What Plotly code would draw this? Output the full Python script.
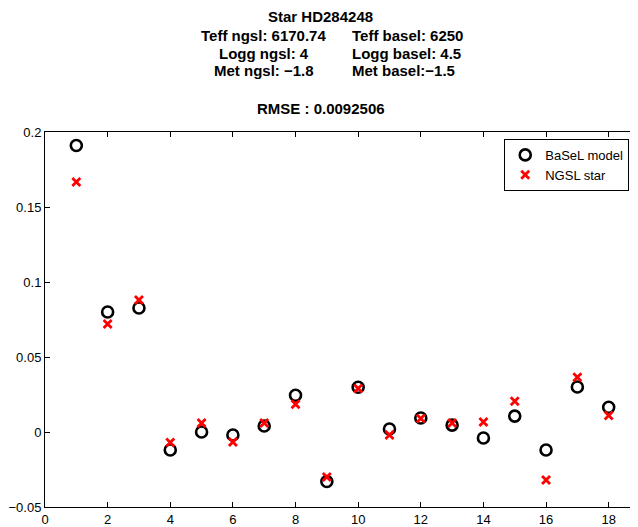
import plotly.graph_objects as go

x_idx = list(range(1, 19))
basel_model = [0.191, 0.080, 0.0827, -0.012, 0.0, -0.002, 0.004, 0.0245, -0.033,
               0.0298, 0.002, 0.0093, 0.0046, -0.004, 0.0106, -0.012, 0.030, 0.0165]
ngsl_star = [0.1667, 0.072, 0.088, -0.007, 0.006, -0.0066, 0.006, 0.0185, -0.030,
             0.029, -0.002, 0.009, 0.006, 0.0066, 0.0205, -0.032, 0.0365, 0.011]

x_ticks = [0, 2, 4, 6, 8, 10, 12, 14, 16, 18]
y_ticks = [-0.05, 0, 0.05, 0.1, 0.15, 0.2]
y_ticktext = ["\u22120.05", "0", "0.05", "0.1", "0.15", "0.2"]

# page coordinates (browser adds an 8px body margin)
OFF = 8
PL, PR, PT, PB = 45, 641, 132, 510   # plot area in page pixels
FW, FH = 633, 519                    # figure size
L = PL - OFF
T = PT - OFF
B = FH - (PB - OFF)
R = FW - (PR - OFF)

def px(x):
    return (x - PL) / (PR - PL)

def py(y):
    return (PB - y) / (PB - PT)

fig = go.Figure()
fig.add_trace(go.Scatter(
    x=x_idx, y=basel_model, mode="markers", name="BaSeL model",
    marker=dict(symbol="circle-open", size=11, color="black",
                line=dict(width=2.6, color="black"))))
fig.add_trace(go.Scatter(
    x=x_idx, y=ngsl_star, mode="markers", name="NGSL star",
    marker=dict(symbol="x-thin", size=8, color="red",
                line=dict(width=2.8, color="red"))))

tfont = dict(family="Liberation Sans, Arial", size=15, color="black")
ann = []
ann.append(dict(text="<b>Star HD284248</b>", x=px(321), y=py(16), xanchor="center"))
left_col = ["Teff ngsl: 6170.74", "Logg ngsl: 4", "Met ngsl: \u22121.8"]
right_col = ["Teff basel: 6250", "Logg basel: 4.5", "Met basel:\u22121.5"]
ys = [34.5, 52.5, 70.5]
for lt, rt, yy in zip(left_col, right_col, ys):
    ann.append(dict(text="<b>" + lt + "</b>", x=px(264), y=py(yy), xanchor="center"))
    ann.append(dict(text="<b>" + rt + "</b>", x=px(351), y=py(yy), xanchor="left"))
ann.append(dict(text="<b>RMSE : 0.0092506</b>", x=px(321), y=py(108), xanchor="center"))
for a in ann:
    a.update(xref="paper", yref="paper", yanchor="middle", showarrow=False, font=tfont)

axis_common = dict(showgrid=False, zeroline=False, showline=True, linecolor="black",
                   linewidth=1, mirror="ticks", ticks="inside", ticklen=5,
                   tickcolor="black", tickfont=dict(family="Liberation Sans, Arial",
                                                    size=13, color="black"))
fig.update_xaxes(range=[0, 19], tickvals=x_ticks, **axis_common)
fig.update_yaxes(range=[-0.05, 0.2], tickvals=y_ticks, ticktext=y_ticktext, **axis_common)

fig.update_layout(
    width=FW, height=FH, autosize=False,
    margin=dict(l=L, r=R, t=T, b=B, pad=0),
    paper_bgcolor="white", plot_bgcolor="white",
    annotations=ann,
    showlegend=True,
    legend=dict(x=px(505), y=py(139), xanchor="left", yanchor="top",
                bordercolor="black", borderwidth=1, bgcolor="white",
                font=dict(family="Liberation Sans, Arial", size=13, color="black"),
                tracegroupgap=0, itemwidth=30),
)

fig.write_html("out.html")
